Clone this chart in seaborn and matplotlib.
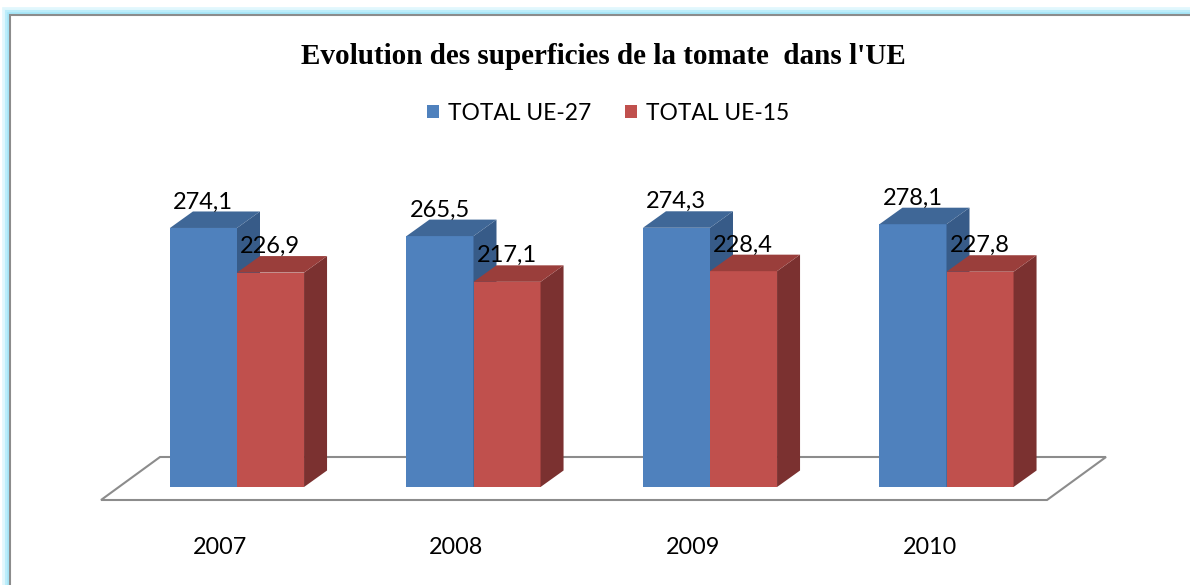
import pandas as pd
import matplotlib
matplotlib.use("Agg")
import matplotlib.pyplot as plt
import matplotlib.transforms as mtransforms
import seaborn as sns
from matplotlib.patches import Polygon, Patch, Rectangle

years = ["2007", "2008", "2009", "2010"]
ue27 = [274.1, 265.5, 274.3, 278.1]
ue15 = [226.9, 217.1, 228.4, 227.8]
series = ["TOTAL UE-27", "TOTAL UE-15"]

front_cols = ["#4F81BD", "#C0504D"]
top_cols = ["#3F6797", "#9A3E3B"]
side_cols = ["#375B88", "#7B3130"]

df = pd.DataFrame({
    "year": years * 2,
    "value": ue27 + ue15,
    "serie": [series[0]] * len(years) + [series[1]] * len(years),
})

sns.set_style("white")
plt.rcParams["font.family"] = ["Lato", "DejaVu Sans"]
plt.rcParams["text.color"] = "black"
plt.rcParams["xtick.color"] = "black"

W, H = 1190, 585
fig = plt.figure(figsize=(W / 100, H / 100), dpi=100)

# axes placed so that category spacing / value scale match the reference
step = 236.5
ppu = 0.945
ymax = 300
ax = fig.add_axes([(237 - step / 2) / W, (H - 487) / H, 4 * step / W, ymax * ppu / H])

sns.barplot(data=df, x="year", y="value", hue="serie", palette=front_cols,
            width=0.567, linewidth=0, saturation=1, legend=False, ax=ax)
ax.set_xlim(-0.5, 3.5)
ax.set_ylim(0, ymax)

# 3D depth offsets (data units)
dx = 23 / step
dy = 16.5 / ppu

# floor parallelogram
x0l, x1l = ax.get_xlim()
fx0, fx1 = x0l - 0.075, x1l - 0.075
fy = -13 / ppu
bx, by = 59 / step, 43 / ppu
floor = Polygon([(fx0, fy), (fx1, fy), (fx1 + bx, fy + by), (fx0 + bx, fy + by)],
                closed=True, facecolor="white", edgecolor="#8C8C8C", lw=1.5,
                clip_on=False, zorder=0.5)
ax.add_patch(floor)

bars = sorted([p for p in ax.patches if p is not floor], key=lambda p: p.get_x())
for i, p in enumerate(bars):
    k = 0 if p.get_facecolor()[2] > 0.5 else 1
    x0 = p.get_x()
    x1 = x0 + p.get_width()
    h = p.get_height()
    z = 2 + i * 0.1
    p.set_zorder(z)
    side = Polygon([(x1, 0), (x1 + dx, dy), (x1 + dx, h + dy), (x1, h)],
                   closed=True, facecolor=side_cols[k], lw=0, clip_on=False, zorder=z)
    top = Polygon([(x0, h), (x0 + dx, h + dy), (x1 + dx, h + dy), (x1, h)],
                  closed=True, facecolor=top_cols[k], lw=0, clip_on=False, zorder=z)
    ax.add_patch(side)
    ax.add_patch(top)
    ax.text(x0 + 3 / step, h + dy - 1, f"{h:.1f}".replace(".", ","), ha="left",
            va="bottom", fontsize=17, color="black", zorder=10)

sns.despine(ax=ax, left=True, bottom=True)
ax.set_xlabel("")
ax.set_ylabel("")
ax.set_yticks([])
ax.tick_params(axis="x", length=0, pad=36, labelsize=16.8)
ax.patch.set_alpha(0)

# year labels sit a little left of the group centre, as in the 3D view
shift = mtransforms.ScaledTranslation(-17 / 100, 0, fig.dpi_scale_trans)
for lab in ax.get_xticklabels():
    lab.set_transform(lab.get_transform() + shift)

fig.text(603 / W, 1 - 56 / H, "Evolution des superficies de la tomate  dans l'UE",
         ha="center", va="center", family="Liberation Serif", weight="bold",
         fontsize=21, color="black")

handles = [Patch(facecolor=c, edgecolor="none") for c in front_cols]
fig.legend(handles, series, loc="center", bbox_to_anchor=(608 / W, 1 - 113 / H),
           ncol=2, frameon=False, handlelength=0.55, handleheight=0.55,
           handletextpad=0.4, columnspacing=1.45, prop={"family": "Lato", "size": 16.4})

# chart frame with light blue glow
fx, fy_top = 10 / W, 1 - 15 / H
for lw, col, a in [(12, "#CDF2FC", 0.6), (8, "#B5EBFA", 0.8), (4, "#A6E6F8", 1.0)]:
    fig.add_artist(Rectangle((fx, -0.2), 1.3, fy_top + 0.2, transform=fig.transFigure,
                             fill=False, edgecolor=col, lw=lw, alpha=a, zorder=-3))
fig.add_artist(Rectangle((fx, -0.2), 1.3, fy_top + 0.2, transform=fig.transFigure,
                         facecolor="white", edgecolor="#8C8C8C", lw=1.5, zorder=-2))

fig.savefig("out.png", dpi=100)
